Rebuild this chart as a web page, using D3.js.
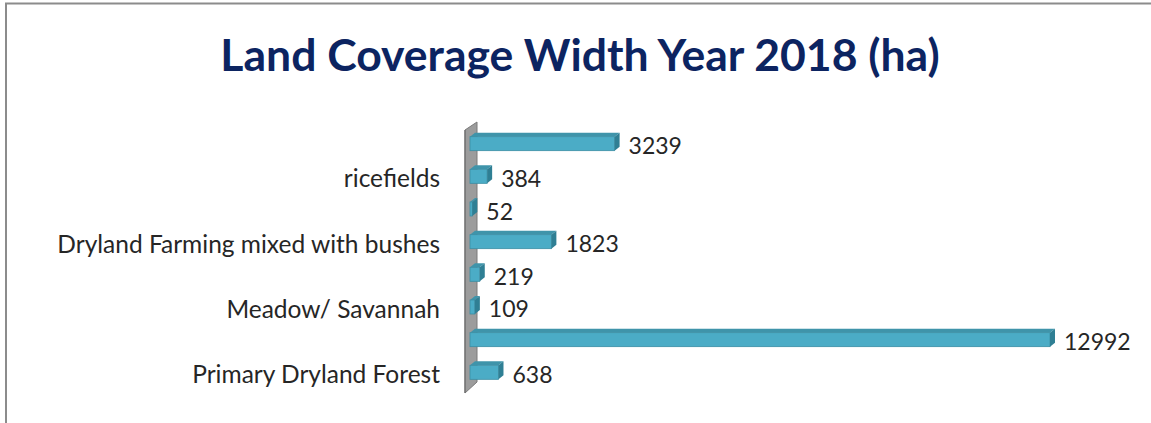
<!DOCTYPE html>
<html><head><meta charset="utf-8">
<script src="https://cdn.jsdelivr.net/npm/d3@7"></script>
<style>body{margin:0;background:#fff;}svg{display:block;}</style>
</head><body>
<script>
// categories listed top to bottom (only every other label is shown on the axis)
const categories = ["Dryland Farming", "ricefields", "Settlement", "Dryland Farming mixed with bushes", "Shrubs", "Meadow/ Savannah", "Secondary Dryland Forest", "Primary Dryland Forest"];
const values = [3239, 384, 52, 1823, 219, 109, 12992, 638];
const shownLabels = ["ricefields", "Dryland Farming mixed with bushes", "Meadow/ Savannah", "Primary Dryland Forest"];
const title = "Land Coverage Width Year 2018 (ha)";

const W = 1151, H = 423;
const svg = d3.select("body").append("svg").attr("width", W).attr("height", H);

// frame
svg.append("path").attr("d", `M6,${H} L6,3.5 L${W},3.5`).attr("fill", "none")
  .attr("stroke", "#8c8c8c").attr("stroke-width", 2);

svg.append("text").attr("x", 580).attr("y", 71).attr("text-anchor", "middle")
  .attr("font-family", "Lato, 'Open Sans', sans-serif").attr("font-weight", "bold")
  .attr("font-size", 44.5).attr("fill", "#0c2461").text(title);

const x = d3.scaleLinear().domain([0, 14000]).range([470, 1095]);
const y = d3.scaleBand().domain(categories).range([127, 388]).paddingInner(0.55).paddingOuter(0.27);

// 3D wall
svg.append("path").attr("d", "M465,130 L477,122 L477,382 L465,393 Z").attr("fill", "#9c9c9c").attr("stroke", "#7a7a7a").attr("stroke-width", 1);
svg.append("path").attr("d", "M465,130 L465,393").attr("stroke", "#6f6f6f").attr("stroke-width", 1.2);

const d = 5;
const g = svg.append("g");
categories.forEach((c, i) => {
  const v = values[i];
  const cy = y(c) + y.bandwidth() / 2;
  const x0 = x(0), x1 = x(v);
  const top = cy - 6.5, bot = cy + 7.5;
  // top face
  g.append("path").attr("d", `M${x0},${top} L${x0 + d},${top - d + 1} L${x1 + d},${top - d + 1} L${x1},${top} Z`).attr("fill", "#3f94aa");
  // front face
  g.append("rect").attr("x", x0).attr("y", top).attr("width", Math.max(0, x1 - x0)).attr("height", bot - top)
    .attr("fill", "#4bacc6").attr("stroke", "#3a8ea4").attr("stroke-width", 0.8);
  // right side
  g.append("path").attr("d", `M${x1},${top} L${x1 + d},${top - d + 1} L${x1 + d},${bot - d + 1} L${x1},${bot} Z`).attr("fill", "#2f7f94");
  // value label
  g.append("text").attr("x", x1 + d + 9).attr("y", cy + 11)
    .attr("font-family", "Lato, 'Open Sans', sans-serif").attr("font-size", 23).attr("fill", "#262626").text(v);
});

// category axis (labels only, every other category)
const axis = d3.axisLeft(y).tickSize(0).tickPadding(0)
  .tickFormat(c => shownLabels.includes(c) ? c : "");
const ag = svg.append("g").attr("transform", "translate(440,0)").call(axis);
ag.select(".domain").remove();
ag.selectAll("text").attr("font-family", "Lato, 'Open Sans', sans-serif").attr("font-size", 24.5)
  .attr("fill", "#262626").attr("dy", 0).attr("transform", "translate(0,11.5)");
</script>
</body></html>
